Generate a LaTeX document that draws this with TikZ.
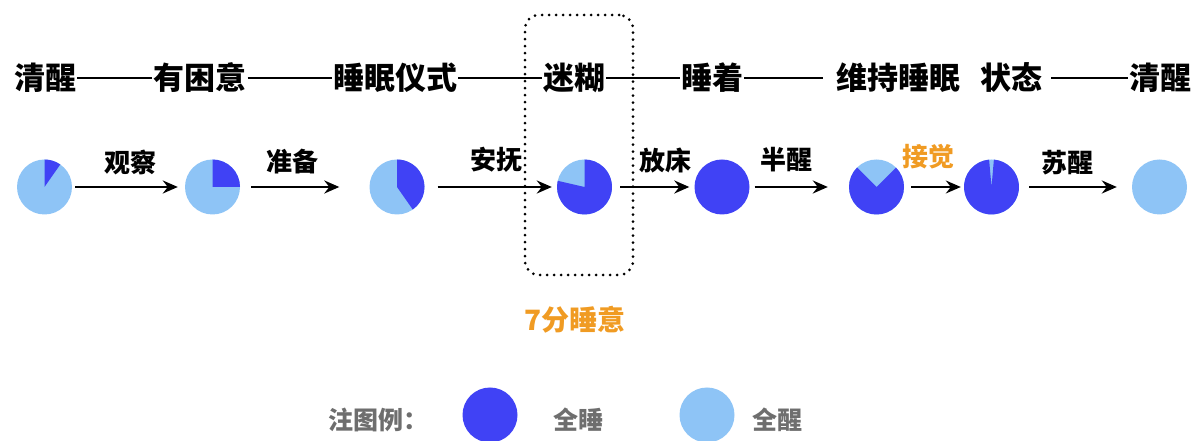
\documentclass[tikz,border=0pt]{standalone}
\usepackage{fontspec}
\newfontfamily\cjk{Noto Sans CJK SC}
\usetikzlibrary{arrows.meta}
\definecolor{db}{RGB}{64,66,245}
\definecolor{lb}{RGB}{142,196,246}
\definecolor{org}{RGB}{240,155,35}
\definecolor{gr}{RGB}{110,110,110}
\begin{document}
\begin{tikzpicture}[x=1pt,y=1pt,
  pienode/.style={circle,minimum size=55pt,inner sep=0pt,fill=lb},
  toptext/.style={font=\cjk\bfseries\fontsize{31}{31}\selectfont,inner sep=0pt},
  dashline/.style={line width=2.4pt},
  lab/.style={font=\cjk\bfseries\fontsize{26}{26}\selectfont,inner sep=0pt},
  legtext/.style={font=\cjk\bfseries\fontsize{25}{25}\selectfont,inner sep=0pt,text=gr},
  arr/.style={-{Stealth[length=15pt,width=13pt,inset=5pt]},line width=2.4pt},
]
\useasboundingbox (0,0) rectangle (1201,441);
% top line
\node[toptext] (t1) at (45,363) {清醒};
\node[toptext] (t2) at (200,363) {有困意};
\node[toptext] (t3) at (395,363) {睡眠仪式};
\node[toptext] (t4) at (574,363) {迷糊};
\node[toptext] (t5) at (712,363) {睡着};
\node[toptext] (t6) at (898,363) {维持睡眠};
\node[toptext] (t7) at (1011,363) {状态};
\node[toptext] (t8) at (1160,363) {清醒};
\draw[dashline] ([xshift=1pt]t1.east) -- ([xshift=-1pt]t2.west);
\draw[dashline] ([xshift=1pt]t2.east) -- ([xshift=-1pt]t3.west);
\draw[dashline] ([xshift=1pt]t3.east) -- ([xshift=-1pt]t4.west);
\draw[dashline] ([xshift=1pt]t4.east) -- ([xshift=-1pt]t5.west);
\draw[dashline] ([xshift=1pt]t5.east) -- ([xshift=-13pt]t6.west);
\draw[dashline] ([xshift=9pt]t7.east) -- ([xshift=-1pt]t8.west);
% dotted box
\node[draw,line width=3pt,line cap=round,dash pattern=on 0pt off 7pt,rounded corners=14pt,
      minimum width=108pt,minimum height=260pt,inner sep=0pt] (box) at (579,296) {};
% pies
\node[pienode] (p1) at (44.5,254) {};
\fill[db] (p1.center) -- ++(55:27.5) arc[start angle=55,end angle=90,radius=27.5] -- cycle;
\node[pienode] (p2) at (212.5,254) {};
\fill[db] (p2.center) -- ++(0:27.5) arc[start angle=0,end angle=90,radius=27.5] -- cycle;
\node[pienode] (p3) at (397,254) {};
\fill[db] (p3.center) -- ++(-55:27.5) arc[start angle=-55,end angle=90,radius=27.5] -- cycle;
\node[pienode] (p4) at (584.5,254) {};
\fill[db] (p4.center) -- ++(167:27.5) arc[start angle=167,end angle=450,radius=27.5] -- cycle;
\node[pienode,fill=db] (p5) at (722,254) {};
\node[pienode] (p6) at (876.5,254) {};
\fill[db] (p6.center) -- ++(135:27.5) arc[start angle=135,end angle=405,radius=27.5] -- cycle;
\node[pienode] (p7) at (991.5,254) {};
\fill[db] (p7.center) -- ++(95:27.5) arc[start angle=95,end angle=445,radius=27.5] -- cycle;
\node[pienode] (p8) at (1159.5,254) {};
% arrows
\draw[arr,shorten <=3pt,shorten >=7pt] (p1) -- (p2);
\draw[arr,shorten <=11pt,shorten >=30pt] (p2) -- (p3);
\draw[arr,shorten <=13pt,shorten >=5pt] (p3) -- (p4);
\draw[arr,shorten <=8pt,shorten >=5pt] (p4) -- (p5);
\draw[arr,shorten <=5pt,shorten >=21pt] (p5) -- (p6);
\draw[arr,line width=1.4pt,shorten <=7pt,shorten >=3pt] (p6) -- (p7);
\draw[arr,shorten <=10pt,shorten >=15pt] (p7) -- (p8);
% labels
\node[lab] (l1) at (130,279) {观察};
\node[lab] (l2) at (292,279) {准备};
\node[lab] (l3) at (496,281) {安抚};
\node[lab] (l4) at (665,281) {放床};
\node[lab] (l5) at (786,281) {半醒};
\node[lab,text=org] (l6) at (928,284) {接觉};
\node[lab] (l7) at (1067,278) {苏醒};
% 7分睡意
\node[font=\cjk\bfseries\fontsize{28}{28}\selectfont,text=org,inner sep=0pt] (sev) at (575,121) {7分睡意};
% legend
\node[legtext] (lg) at (378,21) {注图例：};
\node[circle,minimum size=55pt,inner sep=0pt,fill=db] (ld) at (490,26) {};
\node[legtext] (lds) at (578,21) {全睡};
\node[circle,minimum size=55pt,inner sep=0pt,fill=lb] (ll) at (707,26) {};
\node[legtext] (lls) at (777,21) {全醒};
\end{tikzpicture}
\end{document}
